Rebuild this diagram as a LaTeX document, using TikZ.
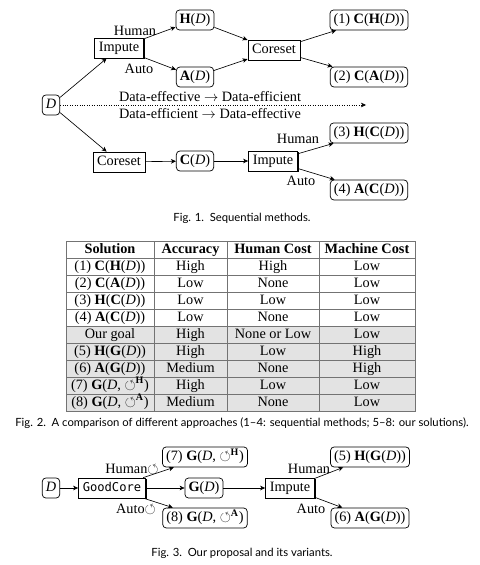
\documentclass[tikz,border=0pt]{standalone}
\usepackage{amssymb}
\usepackage{fontspec}
\setmainfont{Liberation Serif}
\newfontfamily\capfont[Ligatures=TeX]{Lato}
\newfontfamily\codefont{DejaVu Sans Mono}
\usetikzlibrary{arrows.meta,shadows}
\definecolor{rowgray}{gray}{0.89}
\definecolor{rulegray}{gray}{0.45}
\newcommand{\fb}[1]{\textbf{#1}}
\newcommand{\Dv}{\textit{D}}
\newcommand{\loopH}{$\circlearrowleft^{\mathbf{H}}$}
\newcommand{\loopA}{$\circlearrowleft^{\mathbf{A}}$}
\begin{document}
\begin{tikzpicture}[x=0.7pt, y=-0.7pt, font=\fontsize{10}{12}\selectfont,
    data/.style={draw, rounded corners=2.5pt, inner sep=0pt, inner xsep=2.5pt,
        minimum height=14pt, text height=7.2pt, text depth=2.3pt, line width=0.5pt},
    op/.style={draw, inner sep=0pt, inner xsep=3pt, minimum height=14pt,
        text height=7.2pt, text depth=2.3pt, line width=0.5pt, fill=white,
        drop shadow={shadow xshift=0.9pt, shadow yshift=-0.9pt, fill=black, opacity=1}},
    link/.style={-{Stealth[length=3.5pt, width=3.2pt, inset=1pt]}, line width=0.45pt},
    cell/.style={text height=7pt, text depth=2pt, inner sep=0pt},
    rule/.style={rulegray, line width=0.5pt},
    figcap/.style={font=\capfont\fontsize{7.9}{9}\selectfont}]
    \path[fill=white, use as bounding box] (0,0) rectangle (480,565);

    \node[data] (d1) at (51,105) {\Dv};
    \node[op] (imp1) at (119,48) {Impute};
    \node[data] (hd) at (195,20) {\fb{H}(\Dv)};
    \node[data] (ad) at (195,77) {\fb{A}(\Dv)};
    \node[op] (core1) at (274,50) {Coreset};
    \node[data] (s1) at (369,20) {(1) \fb{C}(\fb{H}(\Dv))};
    \node[data] (s2) at (369,77) {(2) \fb{C}(\fb{A}(\Dv))};
    \node[op] (core2) at (119,162) {Coreset};
    \node[data] (cd) at (195,161) {\fb{C}(\Dv)};
    \node[op] (imp2) at (273,161) {Impute};
    \node[data] (s3) at (369,133) {(3) \fb{H}(\fb{C}(\Dv))};
    \node[data] (s4) at (369,190) {(4) \fb{A}(\fb{C}(\Dv))};
    \node (hum1) at (135,31) {Human};
    \node (auto1) at (139,69) {Auto};
    \node (hum2) at (298,139) {Human};
    \node (auto2) at (301,181) {Auto};
    \node (eff1) at (210,97) {Data-effective $\rightarrow$ Data-efficient};
    \node (eff2) at (210,114) {Data-efficient $\rightarrow$ Data-effective};
    \coordinate (dotend) at (366,105);
    \draw[link] (d1) -- (imp1);
    \draw[link] (d1) -- (core2);
    \draw[link, line width=0.4pt, dash pattern=on 0.4pt off 1.3pt] (d1) -- (dotend);
    \draw[link] (imp1) -- (hd);
    \draw[link] (imp1) -- (ad);
    \draw[link] (hd) -- (core1);
    \draw[link] (ad) -- (core1);
    \draw[link] (core1) -- (s1);
    \draw[link] (core1) -- (s2);
    \draw[link] (core2) -- (cd);
    \draw[link] (cd) -- (imp2);
    \draw[link] (imp2) -- (s3);
    \draw[link] (imp2) -- (s4);
    \node[figcap] (cap1) at (242,218) {Fig. 1.\enspace Sequential methods.};

    \fill[rowgray] (66,326) rectangle (415,411);
    \foreach \yy in {258,275,...,394}
        \draw[rule] (66,\yy) -- (415,\yy);
    \foreach \xx in {154,227,319}
        \draw[rule] (\xx,241) -- (\xx,411);
    \draw[rule] (66,241) rectangle (415,411);
    \foreach \n/\sol/\acc/\hum/\mac in {
        0/\fb{Solution}/\fb{Accuracy}/\fb{Human Cost}/\fb{Machine Cost},
        1/{(1) \fb{C}(\fb{H}(\Dv))}/High/High/Low,
        2/{(2) \fb{C}(\fb{A}(\Dv))}/Low/None/Low,
        3/{(3) \fb{H}(\fb{C}(\Dv))}/Low/Low/Low,
        4/{(4) \fb{A}(\fb{C}(\Dv))}/Low/None/Low,
        5/Our goal/High/None or Low/Low,
        6/{(5) \fb{H}(\fb{G}(\Dv))}/High/Low/High,
        7/{(6) \fb{A}(\fb{G}(\Dv))}/Medium/None/High,
        8/{(7) \fb{G}(\Dv, \loopH)}/High/Low/Low,
        9/{(8) \fb{G}(\Dv, \loopA)}/Medium/None/Low}{
        \node[cell] (sol\n) at (110,{249.5+17*\n}) {\sol};
        \node[cell] (acc\n) at (190.5,{249.5+17*\n}) {\acc};
        \node[cell] (hum\n) at (273,{249.5+17*\n}) {\hum};
        \node[cell] (mac\n) at (367,{249.5+17*\n}) {\mac};
    }
    \node[figcap] (cap2) at (242,423) {Fig. 2.\enspace A comparison of different approaches (1--4: sequential methods; 5--8: our solutions).};

    \node[data] (d3) at (51,488) {\Dv};
    \node[op, font=\codefont\fontsize{8.5}{10}\selectfont] (good) at (112,488) {GoodCore};
    \node[data] (s7) at (205,457) {(7) \fb{G}(\Dv, \loopH)};
    \node[data] (gd) at (204,488) {\fb{G}(\Dv)};
    \node[data] (s8) at (205,518) {(8) \fb{G}(\Dv, \loopA)};
    \node[op] (imp3) at (290,488) {Impute};
    \node[data] (s5) at (370,457) {(5) \fb{H}(\fb{G}(\Dv))};
    \node[data] (s6) at (370,518) {(6) \fb{A}(\fb{G}(\Dv))};
    \node (hum3) at (132,469) {Human$\circlearrowleft$};
    \node (auto3) at (136,509) {Auto$\circlearrowleft$};
    \node (hum4) at (309,469) {Human};
    \node (auto4) at (311,509) {Auto};
    \draw[link] (d3) -- (good);
    \draw[link] (good) -- (s7);
    \draw[link] (good) -- (gd);
    \draw[link] (good) -- (s8);
    \draw[link] (gd) -- (imp3);
    \draw[link] (imp3) -- (s5);
    \draw[link] (imp3) -- (s6);
    \node[figcap] (cap3) at (242,553) {Fig. 3.\enspace Our proposal and its variants.};
\end{tikzpicture}
\end{document}
